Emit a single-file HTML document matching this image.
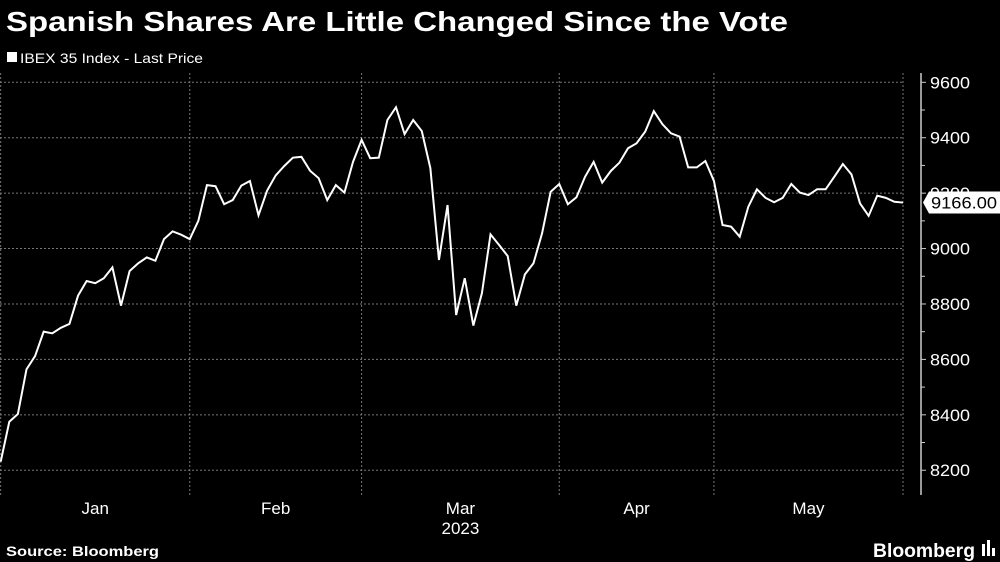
<!DOCTYPE html>
<html><head><meta charset="utf-8"><style>
html,body{margin:0;padding:0;background:#000;width:1000px;height:562px;overflow:hidden;font-family:"Liberation Sans",sans-serif;color:#fff}
svg{position:absolute;left:0;top:0}
</style></head><body>
<svg id="c" width="1000" height="562">
<text x="6" y="31" font-size="28" font-weight="bold" fill="#fff" textLength="782" lengthAdjust="spacingAndGlyphs">Spanish Shares Are Little Changed Since the Vote</text>
<rect x="7" y="52" width="10" height="10" fill="#fff"/>
<text x="20" y="63" font-size="14" fill="#fff" textLength="183" lengthAdjust="spacingAndGlyphs">IBEX 35 Index - Last Price</text>
<text x="6" y="556" font-size="14" font-weight="bold" fill="#fff" textLength="153" lengthAdjust="spacingAndGlyphs">Source: Bloomberg</text>
<text x="873" y="557" font-size="19" font-weight="bold" fill="#fff" textLength="102" lengthAdjust="spacingAndGlyphs">Bloomberg</text>
<g><rect x="982" y="544" width="3" height="12" fill="#fff"/><rect x="987" y="540" width="3" height="16" fill="#fff"/><rect x="992" y="548" width="3" height="8" fill="#fff"/></g>
<g id="grid"></g><g id="axes"></g><g id="series"></g>
</svg>
<script>
const values=[8231,8375,8403,8564,8612,8700,8694,8714,8728,8830,8883,8875,8893,8932,8794,8919,8947,8968,8956,9034,9062,9050,9034,9100,9229,9225,9160,9175,9227,9244,9120,9209,9264,9298,9328,9331,9281,9254,9175,9229,9202,9313,9392,9326,9328,9464,9510,9413,9464,9424,9290,8959,9157,8760,8893,8722,8839,9051,9013,8973,8794,8907,8947,9055,9205,9233,9160,9185,9259,9313,9238,9280,9310,9362,9380,9422,9496,9449,9416,9404,9293,9293,9316,9244,9085,9079,9043,9151,9214,9183,9167,9183,9233,9202,9193,9214,9214,9259,9305,9268,9163,9118,9191,9183,9169,9166];
const yTicks=[8200,8400,8600,8800,9000,9200,9400,9600];
const monthLabels=["Jan","Feb","Mar","Apr","May"];
const monthStartIdx=[0,22,42,65,83,105];
const lastLabel="9166.00";
const NS="http://www.w3.org/2000/svg";
const X0=0.7,X1=903,Y0=82.3,PPU=0.2771;
function xS(i){return X0+i*(X1-X0)/(values.length-1);}
function yS(v){return Y0+(9600-v)*PPU;}
function mk(t,a,p){const e=document.createElementNS(NS,t);for(const k in a)e.setAttribute(k,a[k]);p.appendChild(e);return e;}
const grid=document.getElementById('grid'),axes=document.getElementById('axes'),series=document.getElementById('series');
yTicks.forEach(v=>{
 const l=mk('line',{x1:0,x2:903,y1:yS(v),y2:yS(v),stroke:'#777','stroke-width':1,'stroke-dasharray':'2,2'},grid);
 
 
 const tk=mk('line',{x1:921,x2:926,y1:yS(v),y2:yS(v),stroke:'#ccc'},axes);
 
 
 const t=mk('text',{x:930,y:yS(v)+6,'font-size':17,fill:'#fff',textLength:40,lengthAdjust:'spacingAndGlyphs'},axes);
 t.textContent=v;
 
 
});
for(let v=8300;v<9600;v+=200){const tk=mk('line',{x1:921,x2:925,y1:yS(v),y2:yS(v),stroke:'#ccc'},axes);
 
 }
const ax=mk('line',{x1:921,x2:921,y1:73,y2:495,stroke:'#ccc','stroke-width':1.5},axes);


monthStartIdx.forEach((idx,k)=>{
 const x=xS(idx);
 const g=mk('line',{x1:x,x2:x,y1:73,y2:495,stroke:'#777','stroke-dasharray':'2,2'},grid);
 
 
 if(k<monthLabels.length){
  const cx=(xS(idx)+xS(monthStartIdx[k+1]))/2;
  const t=mk('text',{x:cx,y:514,'font-size':17,fill:'#fff','text-anchor':'middle'},axes);
  t.textContent=monthLabels[k];
  
  
 }
});
const yr=mk('text',{x:(xS(monthStartIdx[2])+xS(monthStartIdx[3]))/2,y:534,'font-size':17,fill:'#fff','text-anchor':'middle'},axes);
yr.textContent="2023";


const pl=mk('polyline',{points:values.map((v,i)=>xS(i)+','+yS(v)).join(' '),fill:'none',stroke:'#fff','stroke-width':2,'stroke-linejoin':'miter'},series);


const ly=yS(values[values.length-1]);
const bx=mk('polygon',{points:`923,${ly} 929,${ly-11} 1000,${ly-11} 1000,${ly+11} 929,${ly+11}`,fill:'#fff'},axes);


const lt=mk('text',{x:931,y:ly+6,'font-size':17,fill:'#000',textLength:66,lengthAdjust:'spacingAndGlyphs'},axes);
lt.textContent=lastLabel;


</script>
</body></html>
